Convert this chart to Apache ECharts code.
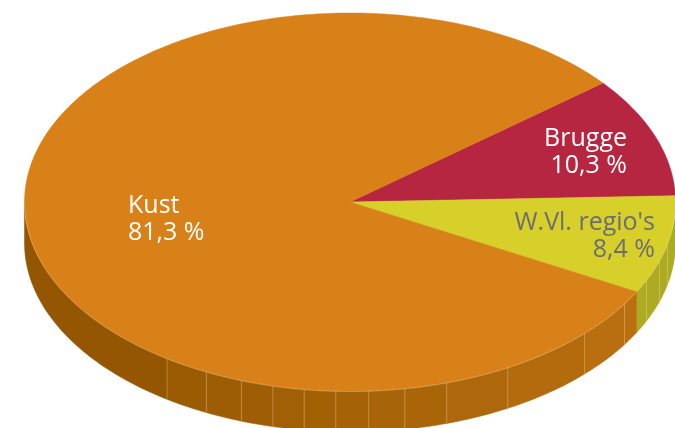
<!DOCTYPE html>
<html>
<head>
<meta charset="utf-8">
<style>
  html, body { margin: 0; padding: 0; background: #fff; overflow: hidden; }
  #chart { width: 675px; height: 428px; }
</style>
<script src="https://cdn.jsdelivr.net/npm/echarts@6/dist/echarts.min.js"></script>
</head>
<body>
<div id="chart"></div>
<script>
const categories = ["Brugge", "W.Vl. regio's", "Kust"];
const shares = [10.3, 8.4, 81.3];
const topColors = ["#b72640", "#d7cf2a", "#d98119"];
const labelColors = ["#ffffff", "#6d6e71", "#ffffff"];

// look of the fake 3D pie
const cx = 350, cy = 202, rx = 325.5, ry = 189, depth = 41;
const startAngle = 39;
// front edge facets, from right to left
const ribAngles = [-12.8, -18, -24.4, -32.5, -43.9, -61, -72.7, -80.3, -86.7, -92.5, -98.1, -103.7, -109.5, -116.2, -124.2];
const labelAnchor = [
    {x: 627, y: 152, align: "right"},
    {x: 655, y: 236, align: "right"},
    {x: 128, y: 219, align: "left"}
];

const total = shares.reduce((a, b) => a + b, 0);

function rim(deg, dy) {
    const a = deg * Math.PI / 180;
    return [cx + rx * Math.cos(a), cy + dy - ry * Math.sin(a)];
}

// points along the rim going clockwise (degrees decrease)
function arc(from, to, dy) {
    const pts = [];
    const steps = Math.max(2, Math.ceil(Math.abs(from - to)));
    for (let i = 0; i <= steps; i++) {
        pts.push(rim(from + (to - from) * i / steps, dy));
    }
    return pts;
}

function wallColor(idx, deg) {
    if (idx === 1) return "#adab22";
    if (deg < -124.2) return "#945600";
    const t = Math.min(1, (deg + 124.2) / 92);
    return echarts.color.lerp(t, ["#985a02", "#bb7010"]);
}

function wallParts(idx, from, to) {
    // only the front half of the rim is visible, -180..0
    const parts = [];
    const a = Math.min(from, 0), b = Math.max(to, -180);
    if (a <= b) return parts;
    const stops = [a].concat(ribAngles.filter(r => r < a && r > b), [b]);
    for (let i = 0; i < stops.length - 1; i++) {
        const s = stops[i], e = stops[i + 1];
        const color = wallColor(idx, (s + e) / 2);
        parts.push({
            type: "polygon",
            shape: {points: arc(s, e, 0).concat(arc(e, s, depth))},
            style: {fill: color, stroke: color, lineWidth: 0.5}
        });
    }
    // ribs go on top of the facets
    stops.slice(1, -1).forEach(s => {
        parts.push({
            type: "line",
            shape: {x1: rim(s, 0)[0], y1: rim(s, 0)[1], x2: rim(s, depth)[0], y2: rim(s, depth)[1]},
            style: {stroke: "rgba(255,225,170,0.3)", lineWidth: 1}
        });
    });
    return parts;
}

function renderSlice(params, api) {
    const idx = params.dataIndex;
    let before = 0;
    for (let i = 0; i < idx; i++) before += shares[i];
    const from = startAngle - before / total * 360;
    const to = from - api.value(1) / total * 360;

    const top = {
        type: "polygon",
        shape: {points: [[cx, cy]].concat(arc(from, to, 0))},
        style: {fill: topColors[idx], stroke: topColors[idx], lineWidth: 0.5}
    };
    const children = wallParts(idx, from, to).concat([top]);
    // thin light edge where top meets the wall
    if (to < 0 && from > -180) {
        children.push({
            type: "polyline",
            shape: {points: arc(Math.min(from, 0), Math.max(to, -180), 0.5)},
            style: {fill: "none", stroke: "rgba(255,225,170,0.45)", lineWidth: 0.8}
        });
    }
    const anchor = labelAnchor[idx];
    children.push({
        type: "text",
        z2: 10,
        style: {
            x: anchor.x,
            y: anchor.y,
            text: categories[idx] + "\n" + String(api.value(1)).replace(".", ",") + " %",
            fill: labelColors[idx],
            align: anchor.align,
            verticalAlign: "middle",
            font: "25px 'Open Sans'",
            lineHeight: 27
        }
    });
    return {type: "group", children: children};
}

const chart = echarts.init(document.getElementById("chart"));
chart.setOption({
    animation: false,
    series: [{
        type: "custom",
        coordinateSystem: "none",
        silent: true,
        renderItem: renderSlice,
        data: categories.map((name, i) => [name, shares[i]])
    }]
});
</script>
</body>
</html>
